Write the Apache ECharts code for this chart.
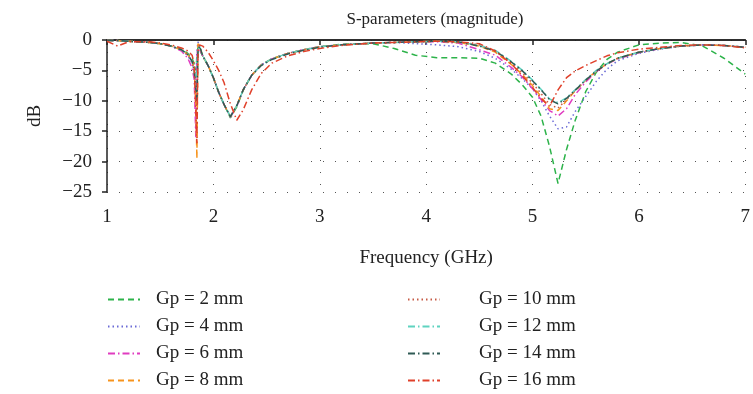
<!DOCTYPE html>
<html>
<head>
<meta charset="utf-8">
<script src="https://cdn.jsdelivr.net/npm/echarts@6/dist/echarts.min.js"></script>
<style>
  html, body { margin: 0; padding: 0; background: #fff; }
  #chart { width: 753px; height: 394px; }
</style>
</head>
<body>
<div id="chart"></div>
<script>
// frequency samples (GHz), shared by all curves
var freq = [1.0, 1.1, 1.2, 1.4, 1.5, 1.6, 1.7, 1.76, 1.8, 1.82, 1.835, 1.845, 1.855, 1.87, 1.9, 1.95,
            2.0, 2.05, 2.1, 2.16, 2.22, 2.28, 2.36, 2.45, 2.55, 2.7, 2.85, 3.0, 3.2, 3.5, 3.7, 3.9,
            4.1, 4.3, 4.5, 4.65, 4.8, 4.9, 5.0, 5.08, 5.16, 5.24, 5.32, 5.4, 5.5, 5.6, 5.7, 5.8,
            6.0, 6.2, 6.4, 6.6, 6.8, 7.0];

// S11 (dB) per gap value
var gp2  = [-0.1, -0.1, -0.2, -0.4, -0.6, -1.0, -1.5, -2.2, -3.0, -4.0, -5.0, -3.0, -1.2, -1.2, -2.6, -4.2,
            -6.2, -8.6, -10.6, -12.8, -11.0, -8.3, -5.8, -4.1, -3.1, -2.2, -1.6, -1.1, -0.7, -0.6, -1.4, -2.5,
            -2.9, -2.9, -3.0, -3.8, -5.6, -7.3, -9.4, -12.5, -17.5, -23.6, -18.0, -13.3, -8.5, -5.3, -3.2, -2.0,
            -0.8, -0.5, -0.4, -1.0, -3.0, -5.6];
var gp4  = [-0.1, -0.1, -0.2, -0.4, -0.6, -1.0, -1.7, -2.6, -3.8, -5.5, -7.0, -2.0, -0.3, -1.2, -2.6, -4.2,
            -6.2, -8.6, -10.6, -12.6, -10.9, -8.2, -5.8, -4.1, -3.1, -2.2, -1.6, -1.1, -0.8, -0.5, -0.4, -0.6,
            -0.8, -1.1, -1.9, -3.0, -4.8, -6.3, -8.0, -10.0, -12.5, -14.6, -14.3, -11.8, -9.3, -6.8, -4.8, -3.4,
            -2.2, -1.5, -1.0, -0.8, -0.9, -1.2];
var gp6  = [-0.1, -0.1, -0.2, -0.4, -0.6, -1.0, -1.8, -3.0, -4.6, -6.5, -16.0, -3.0, -1.0, -1.1, -2.6, -4.2,
            -6.2, -8.6, -10.6, -12.7, -10.9, -8.2, -5.8, -4.1, -3.1, -2.2, -1.6, -1.1, -0.8, -0.5, -0.4, -0.3,
            -0.3, -0.5, -1.6, -2.5, -4.5, -6.0, -8.0, -9.8, -11.6, -12.5, -11.3, -9.0, -6.9, -5.2, -4.0, -3.1,
            -2.1, -1.4, -1.0, -0.8, -0.9, -1.2];
var gp8  = [-0.1, -0.1, -0.2, -0.4, -0.6, -1.0, -1.6, -2.4, -3.4, -5.0, -10.0, -19.5, -0.6, -1.0, -2.6, -4.2,
            -6.2, -8.6, -10.6, -12.6, -10.8, -8.2, -5.8, -4.1, -3.1, -2.2, -1.6, -1.1, -0.8, -0.5, -0.4, -0.3,
            -0.2, -0.4, -1.0, -2.0, -4.0, -5.6, -7.5, -9.3, -11.3, -11.6, -10.0, -8.4, -6.6, -5.1, -3.9, -3.0,
            -2.0, -1.4, -1.0, -0.8, -0.9, -1.2];
var gp10 = [-0.1, -0.1, -0.2, -0.4, -0.6, -1.0, -1.6, -2.4, -3.5, -5.0, -9.0, -14.0, -1.5, -1.0, -2.6, -4.2,
            -6.2, -8.6, -10.6, -12.6, -10.8, -8.2, -5.8, -4.1, -3.1, -2.2, -1.6, -1.1, -0.8, -0.5, -0.4, -0.3,
            -0.2, -0.3, -0.8, -1.8, -3.8, -5.3, -7.1, -8.8, -10.6, -11.2, -9.8, -8.3, -6.6, -5.1, -3.9, -3.0,
            -2.0, -1.4, -1.0, -0.8, -0.9, -1.2];
var gp12 = [-0.1, -0.1, -0.2, -0.4, -0.6, -1.0, -1.6, -2.4, -3.5, -5.0, -8.0, -8.0, -1.5, -1.0, -2.6, -4.2,
            -6.2, -8.6, -10.6, -12.6, -10.8, -8.2, -5.8, -4.1, -3.1, -2.2, -1.6, -1.1, -0.8, -0.5, -0.4, -0.3,
            -0.2, -0.3, -0.9, -1.7, -3.5, -4.9, -6.6, -8.1, -9.7, -10.3, -9.5, -8.2, -6.5, -5.0, -3.9, -3.0,
            -2.0, -1.4, -1.0, -0.8, -0.9, -1.2];
var gp14 = [-0.1, -0.1, -0.2, -0.4, -0.6, -1.0, -1.6, -2.4, -3.5, -5.0, -8.0, -10.0, -2.0, -1.0, -2.6, -4.2,
            -6.2, -8.6, -10.6, -12.6, -10.8, -8.2, -5.8, -4.2, -3.2, -2.3, -1.7, -1.2, -0.8, -0.5, -0.4, -0.3,
            -0.2, -0.3, -1.0, -1.8, -3.6, -5.0, -6.7, -8.2, -9.8, -10.5, -9.6, -8.3, -6.6, -5.1, -3.9, -3.0,
            -2.0, -1.4, -1.0, -0.8, -0.9, -1.2];
var gp16 = [-0.2, -1.0, -0.3, -0.3, -0.5, -0.8, -1.3, -1.8, -2.5, -4.0, -12.0, -17.0, -2.0, -0.8, -1.0, -2.0,
            -3.4, -5.0, -7.0, -10.5, -13.2, -11.5, -8.2, -5.5, -3.8, -2.6, -1.9, -1.4, -0.9, -0.5, -0.4, -0.3,
            -0.2, -0.3, -0.6, -1.8, -3.9, -5.8, -7.8, -9.6, -10.9, -8.2, -6.2, -5.1, -4.2, -3.4, -2.6, -2.1,
            -1.5, -1.2, -0.9, -0.8, -0.9, -1.3];

var names  = ['Gp = 2 mm', 'Gp = 4 mm', 'Gp = 6 mm', 'Gp = 8 mm', 'Gp = 10 mm', 'Gp = 12 mm', 'Gp = 14 mm', 'Gp = 16 mm'];
var curves = [gp2, gp4, gp6, gp8, gp10, gp12, gp14, gp16];
var colors = ['#2db34a', '#6b6bd6', '#e03cc0', '#f7941d', '#c65a45', '#5fd3c0', '#2f5a55', '#e0402a'];

var DASH = [6, 4], DOT = [1.5, 3], DASHDOT = [7, 3, 1.5, 3];
var dashes = [DASH, DOT, DASHDOT, DASH, DOT, DASHDOT, DASHDOT, DASHDOT];

var FONT = 'Liberation Serif';
var FS = 19;

var series = curves.map(function (ys, k) {
    return {
        name: names[k],
        type: 'line',
        symbol: 'none',
        data: freq.map(function (f, i) { return [f, ys[i]]; }),
        lineStyle: { color: colors[k], width: 1.5, type: dashes[k] },
        itemStyle: { color: colors[k] }
    };
});

function legendBox(list, left, textPad) {
    return {
        data: list, orient: 'vertical', left: left, top: 290, padding: 0,
        height: 120,
        itemWidth: 32, itemHeight: 14, itemGap: 8,
        itemStyle: { opacity: 0 },
        textStyle: { fontFamily: FONT, fontSize: FS, color: '#222', padding: [0, 0, 0, textPad] }
    };
}

var chart = echarts.init(document.getElementById('chart'));
chart.setOption({
    animation: false,
    title: {
        text: 'S-parameters (magnitude)',
        left: 430, top: 6, textAlign: 'center',
        textStyle: { fontFamily: FONT, fontSize: 17, fontWeight: 'normal', color: '#222' }
    },
    grid: { left: 107, top: 40, right: 0, height: 152 },
    legend: [
        legendBox(names.slice(0, 4), 107, 11),
        legendBox(names.slice(4), 407, 34)
    ],
    xAxis: [
        {
            type: 'value', min: 1, max: 7, interval: 1,
            name: 'Frequency (GHz)', nameLocation: 'middle', nameGap: 57,
            nameTextStyle: { fontFamily: FONT, fontSize: FS, color: '#222' },
            axisLine: { lineStyle: { color: '#222', width: 1.5 } },
            axisTick: { length: 5, lineStyle: { color: '#222', width: 1.5 } },
            axisLabel: { fontFamily: FONT, fontSize: FS, color: '#222', margin: 16 },
            splitLine: { show: true, lineStyle: { color: '#555', type: [1, 11], width: 1 } }
        },
        {
            type: 'value', min: 1, max: 7, position: 'top',
            axisLine: { show: true, lineStyle: { color: '#222', width: 1.5 } },
            axisTick: { show: false }, axisLabel: { show: false }, splitLine: { show: false }
        }
    ],
    yAxis: {
        type: 'value', min: -25, max: 0, interval: 5,
        name: 'dB', nameLocation: 'middle', nameGap: 62, nameRotate: 90,
        nameTextStyle: { fontFamily: FONT, fontSize: FS, color: '#222' },
        axisLine: { show: true, lineStyle: { color: '#222', width: 1.5 } },
        axisTick: { show: true, length: 5, lineStyle: { color: '#222', width: 1.5 } },
        axisLabel: {
            fontFamily: FONT, fontSize: FS, color: '#222', margin: 15,
            formatter: function (v) { return String(v).replace('-', '\u2212'); }
        },
        splitLine: { show: true, lineStyle: { color: '#555', type: [1, 11], width: 1 } }
    },
    series: series
});
</script>
</body>
</html>
